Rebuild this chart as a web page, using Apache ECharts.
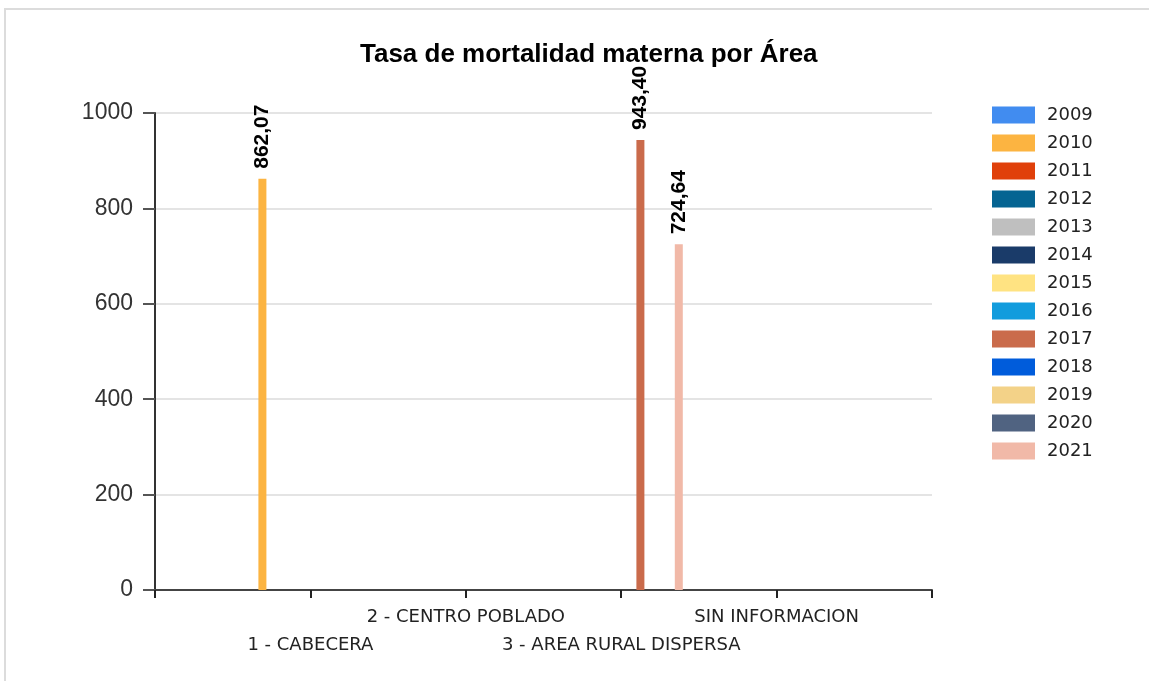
<!DOCTYPE html>
<html>
<head>
<meta charset="utf-8">
<title>Tasa de mortalidad materna por Área</title>
<script src="https://cdn.jsdelivr.net/npm/echarts@6/dist/echarts.min.js"></script>
<style>
  html, body { margin: 0; padding: 0; background: #ffffff; }
  #chart { width: 1149px; height: 681px; }
</style>
</head>
<body>
<div id="chart"></div>
<script>
// Areas on the x axis; empty slots pad both ends of the axis
const categories = ['', '1 - CABECERA', '2 - CENTRO POBLADO', '3 - AREA RURAL DISPERSA', 'SIN INFORMACION', ''];
const years = ['2009', '2010', '2011', '2012', '2013', '2014', '2015', '2016', '2017', '2018', '2019', '2020', '2021'];
const yearColors = ['#418CF0', '#FCB441', '#E0400A', '#056492', '#BFBFBF', '#1A3B69', '#FFE382',
                    '#129CDD', '#CA6B4B', '#005CDB', '#F3D288', '#506381', '#F1B9A8'];

// Rate per area, one array per year (null = no value)
const v2009 = [null, null, null, null, null, null];
const v2010 = [null, 862.07, null, null, null, null];
const v2011 = [null, null, null, null, null, null];
const v2012 = [null, null, null, null, null, null];
const v2013 = [null, null, null, null, null, null];
const v2014 = [null, null, null, null, null, null];
const v2015 = [null, null, null, null, null, null];
const v2016 = [null, null, null, null, null, null];
const v2017 = [null, null, null, 943.40, null, null];
const v2018 = [null, null, null, null, null, null];
const v2019 = [null, null, null, null, null, null];
const v2020 = [null, null, null, null, null, null];
const v2021 = [null, null, null, 724.64, null, null];
const seriesValues = [v2009, v2010, v2011, v2012, v2013, v2014, v2015, v2016, v2017, v2018, v2019, v2020, v2021];

const yTicks = [0, 200, 400, 600, 800, 1000];

const fmt = v => v.toFixed(2).replace('.', ',');

const chart = echarts.init(document.getElementById('chart'), null, { renderer: 'canvas' });

const series = years.map((y, i) => ({
  name: y,
  type: 'bar',
  data: seriesValues[i],
  barWidth: 8,
  barGap: '20%',
  itemStyle: { color: yearColors[i] },
  label: {
    show: true,
    position: 'top',
    rotate: 90,
    align: 'left',
    verticalAlign: 'middle',
    distance: 10,
    fontFamily: 'Liberation Sans, Arial, sans-serif',
    fontWeight: 'bold',
    fontSize: 21,
    color: '#000000',
    formatter: p => (p.value == null ? '' : fmt(p.value))
  }
}));

chart.setOption({
  animation: false,
  backgroundColor: '#ffffff',
  graphic: [{
    type: 'rect',
    shape: { x: 5, y: 9, width: 1300, height: 800 },
    style: { fill: 'none', stroke: '#dcdcdc', lineWidth: 2 },
    silent: true
  }],
  title: {
    text: 'Tasa de mortalidad materna por Área',
    left: 355,
    top: 37,
    textStyle: {
      fontFamily: 'Liberation Sans, Arial, sans-serif',
      fontWeight: 'bold',
      fontSize: 26,
      color: '#000000'
    }
  },
  legend: {
    orient: 'vertical',
    left: 992,
    top: 106,
    padding: 0,
    itemWidth: 43,
    itemHeight: 17,
    itemGap: 10,
    icon: 'rect',
    data: years,
    textStyle: {
      fontFamily: 'DejaVu Sans, Verdana, sans-serif',
      fontSize: 18,
      color: '#222222',
      padding: [0, 0, 0, 7]
    }
  },
  grid: { left: 155, right: 217, top: 113, bottom: 91 },
  xAxis: {
    type: 'category',
    data: categories,
    boundaryGap: false,
    axisLine: { lineStyle: { color: '#444444', width: 2 } },
    axisTick: { show: true, length: 8, interval: 0, lineStyle: { color: '#222222', width: 2 } },
    axisLabel: {
      interval: 0,
      margin: 13,
      fontFamily: 'DejaVu Sans, Verdana, sans-serif',
      fontSize: 18,
      lineHeight: 28,
      color: '#222222',
      formatter: (v, idx) => (idx % 2 === 1 ? '\n' + v : v)
    },
    splitLine: { show: false }
  },
  yAxis: {
    type: 'value',
    min: 0,
    max: 1000,
    interval: 200,
    axisLine: { show: true, lineStyle: { color: '#333333', width: 2 } },
    axisTick: { show: true, length: 12, lineStyle: { color: '#555555', width: 2 } },
    axisLabel: {
      margin: 22,
      fontFamily: 'Liberation Sans, Arial, sans-serif',
      fontSize: 23,
      color: '#333333',
      formatter: v => (yTicks.includes(v) ? String(v) : '')
    },
    splitLine: { lineStyle: { color: '#e4e4e4', width: 2 } }
  },
  series: series
});
</script>
</body>
</html>
